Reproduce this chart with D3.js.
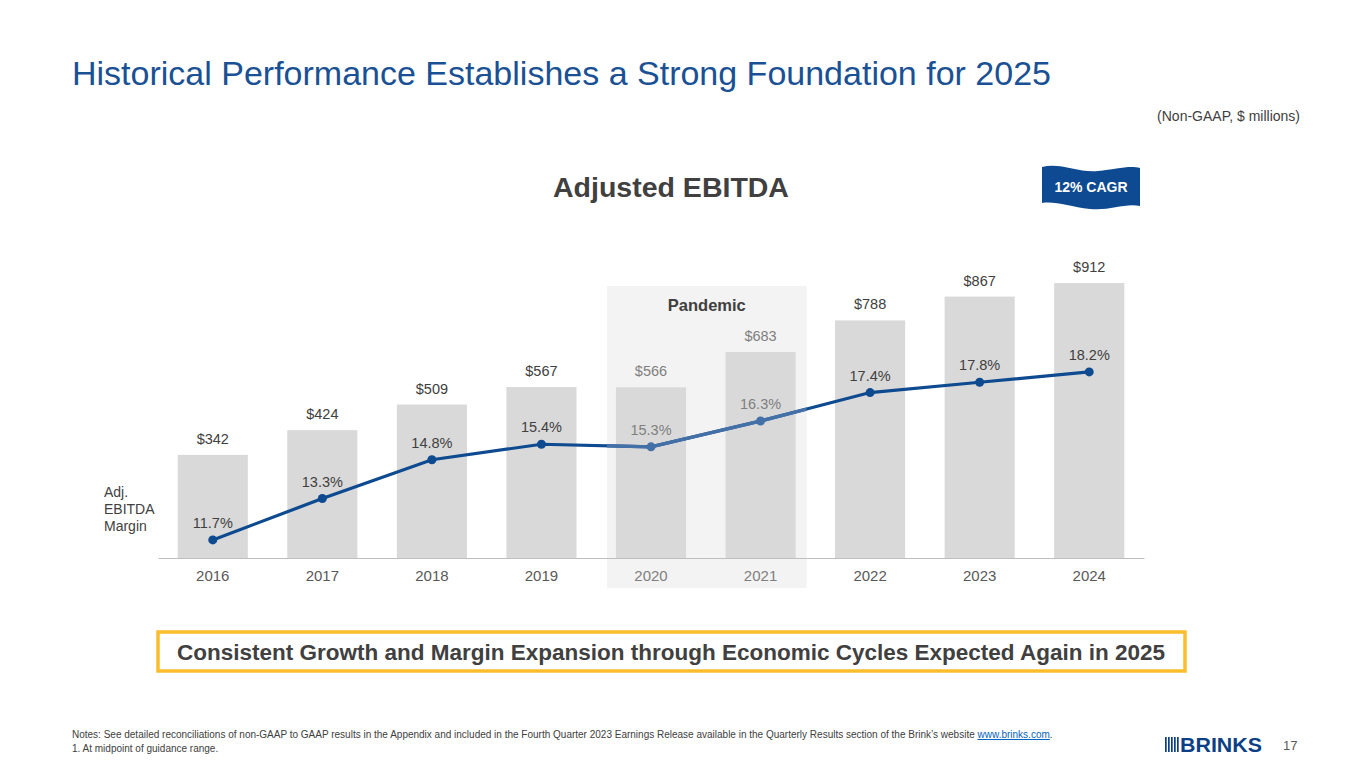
<!DOCTYPE html>
<html>
<head>
<meta charset="utf-8">
<script src="https://cdn.jsdelivr.net/npm/d3@7"></script>
<style>
  body { margin: 0; background: #fff; }
  svg { display: block; font-family: 'Liberation Sans', Arial, sans-serif; }
</style>
</head>
<body>
<div id="chart"></div>
<script>
const width = 1365;
const height = 768;

const years = ['2016', '2017', '2018', '2019', '2020', '2021', '2022', '2023', '2024'];
const ebitda = [342, 424, 509, 567, 566, 683, 788, 867, 912];
const margin = [11.7, 13.3, 14.8, 15.4, 15.3, 16.3, 17.4, 17.8, 18.2];
const pandemicYears = ['2020', '2021'];

const NAVY = '#0d4a8f';
const TEXT = '#404040';

const svg = d3.select('#chart').append('svg').attr('width', width).attr('height', height);

// title block
svg.append('text')
  .attr('x', 72).attr('y', 85)
  .attr('fill', '#1a5195')
  .style('font-size', '34px')
  .text('Historical Performance Establishes a Strong Foundation for 2025');

svg.append('text')
  .attr('x', 1300).attr('y', 121)
  .attr('text-anchor', 'end')
  .attr('fill', TEXT)
  .style('font-size', '14px')
  .text('(Non-GAAP, $ millions)');

svg.append('text')
  .attr('x', 671).attr('y', 197)
  .attr('text-anchor', 'middle')
  .attr('fill', TEXT)
  .style('font-size', '28.5px')
  .style('font-weight', 'bold')
  .text('Adjusted EBITDA');

// CAGR flag
const flag = svg.append('g').attr('transform', 'translate(1042, 165)');
flag.append('path')
  .attr('d', 'M0,2 C18,-3 36,8 56,6 C74,4 88,0 98,3 L98,41 C82,38 68,46 48,44 C28,42 14,36 0,38 Z')
  .attr('fill', '#0d4a91');
flag.append('text')
  .attr('x', 49).attr('y', 27)
  .attr('text-anchor', 'middle')
  .attr('fill', '#fff')
  .style('font-size', '14px')
  .style('font-weight', 'bold')
  .text('12% CAGR');

// scales
const x = d3.scaleBand().domain(years).range([158, 1144]).paddingInner(0.36).paddingOuter(0.18);
const baseY = 558;
const yBar = d3.scaleLinear().domain([0, 912]).range([baseY, 283]);
const yLine = d3.scaleLinear().domain([11, 22]).range([baseY, baseY - 11 * 25.85]);

// pandemic band
const bandX0 = x(pandemicYears[0]) - 9;
const bandX1 = x(pandemicYears[1]) + x.bandwidth() + 11;
svg.append('rect')
  .attr('x', bandX0).attr('y', 286)
  .attr('width', bandX1 - bandX0).attr('height', 302)
  .attr('fill', '#f3f3f3');
svg.append('text')
  .attr('x', (bandX0 + bandX1) / 2).attr('y', 311)
  .attr('text-anchor', 'middle')
  .attr('fill', TEXT)
  .style('font-size', '16.5px')
  .style('font-weight', 'bold')
  .text('Pandemic');

const isPandemic = (yr) => pandemicYears.includes(yr);

// bars
svg.selectAll('.bar')
  .data(years)
  .join('rect')
  .attr('x', (d) => x(d))
  .attr('y', (d, i) => yBar(ebitda[i]))
  .attr('width', x.bandwidth())
  .attr('height', (d, i) => baseY - yBar(ebitda[i]))
  .attr('fill', '#d9d9d9');

svg.selectAll('.barLabel')
  .data(years)
  .join('text')
  .attr('x', (d) => x(d) + x.bandwidth() / 2)
  .attr('y', (d, i) => yBar(ebitda[i]) - 11)
  .attr('text-anchor', 'middle')
  .attr('fill', (d) => (isPandemic(d) ? '#7f7f7f' : TEXT))
  .style('font-size', '14.5px')
  .text((d, i) => `$${ebitda[i]}`);

// x axis
const xAxis = d3.axisBottom(x).tickSize(0).tickPadding(12);
const axisG = svg.append('g').attr('transform', `translate(0, ${baseY})`).call(xAxis);
axisG.select('.domain').attr('stroke', '#bfbfbf').attr('stroke-width', 1);
axisG.selectAll('.tick text')
  .attr('fill', (d) => (isPandemic(d) ? '#7f7f7f' : '#595959'))
  .style('font-size', '15px')
  .style('font-family', "'Liberation Sans', Arial, sans-serif");

// margin line
const pts = years.map((yr, i) => ({ yr, v: margin[i] }));
const line = d3.line()
  .x((d) => x(d.yr) + x.bandwidth() / 2)
  .y((d) => yLine(d.v));

svg.append('defs').append('clipPath').attr('id', 'pandemicClip')
  .append('rect')
  .attr('x', bandX0).attr('y', 286)
  .attr('width', bandX1 - bandX0).attr('height', 302);

svg.append('path').datum(pts)
  .attr('fill', 'none').attr('stroke', NAVY).attr('stroke-width', 3.2)
  .attr('d', line);
svg.append('path').datum(pts)
  .attr('fill', 'none').attr('stroke', '#4470a8').attr('stroke-width', 3.4)
  .attr('clip-path', 'url(#pandemicClip)')
  .attr('d', line);

svg.selectAll('.dot')
  .data(pts)
  .join('circle')
  .attr('cx', (d) => x(d.yr) + x.bandwidth() / 2)
  .attr('cy', (d) => yLine(d.v))
  .attr('r', 4.5)
  .attr('fill', (d) => (isPandemic(d.yr) ? '#4470a8' : NAVY));

svg.selectAll('.dotLabel')
  .data(pts)
  .join('text')
  .attr('x', (d) => x(d.yr) + x.bandwidth() / 2)
  .attr('y', (d) => yLine(d.v) - 12)
  .attr('text-anchor', 'middle')
  .attr('fill', (d) => (isPandemic(d.yr) ? '#7f7f7f' : TEXT))
  .style('font-size', '14.5px')
  .text((d) => `${d.v.toFixed(1)}%`);

// side label
const side = svg.append('text').attr('fill', TEXT).style('font-size', '14px');
['Adj.', 'EBITDA', 'Margin'].forEach((t, i) => {
  side.append('tspan').attr('x', 104).attr('y', 497 + i * 17).text(t);
});

// callout box
svg.append('rect')
  .attr('x', 158).attr('y', 632)
  .attr('width', 1027).attr('height', 39)
  .attr('fill', '#fff')
  .attr('stroke', '#fbbd2c')
  .attr('stroke-width', 3.5);
svg.append('text')
  .attr('x', 671).attr('y', 660)
  .attr('text-anchor', 'middle')
  .attr('fill', TEXT)
  .style('font-size', '22.5px')
  .style('font-weight', 'bold')
  .text('Consistent Growth and Margin Expansion through Economic Cycles Expected Again in 2025');

// footnotes
const note = svg.append('text').attr('x', 72).attr('y', 738).attr('fill', TEXT).style('font-size', '10px');
note.append('tspan').text("Notes: See detailed reconciliations of non-GAAP to GAAP results in the Appendix and included in the Fourth Quarter 2023 Earnings Release available in the Quarterly Results section of the Brink\u2019s website ");
note.append('tspan').attr('fill', '#0563c1').style('text-decoration', 'underline').text('www.brinks.com');
note.append('tspan').text('.');
svg.append('text').attr('x', 72).attr('y', 752).attr('fill', TEXT).style('font-size', '10px')
  .text('1.  At midpoint of guidance range.');

// logo
const logo = svg.append('g').attr('transform', 'translate(1165, 737)');
d3.range(5).forEach((i) => {
  logo.append('rect').attr('x', i * 3).attr('y', 0).attr('width', 1.7).attr('height', 15).attr('fill', '#0d3f86');
});
logo.append('text')
  .attr('x', 15).attr('y', 15)
  .attr('fill', '#0d3f86')
  .style('font-size', '20px')
  .style('font-weight', 'bold')
  .attr('textLength', 82)
  .attr('lengthAdjust', 'spacingAndGlyphs')
  .text('BRINKS');
svg.append('text')
  .attr('x', 1283).attr('y', 750)
  .attr('fill', '#595959')
  .style('font-size', '13px')
  .text('17');
</script>
</body>
</html>
